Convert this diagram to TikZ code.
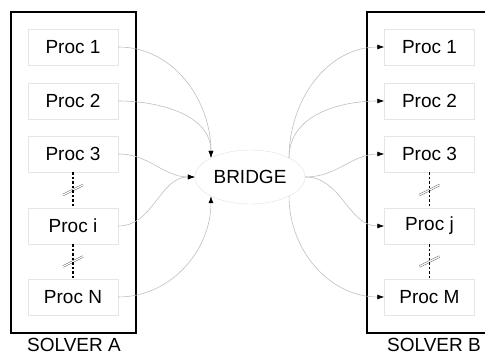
\documentclass[tikz,border=0pt]{standalone}
\usepackage{fontspec}
\setmainfont{Liberation Sans}
\usetikzlibrary{arrows.meta,calc,positioning,shapes.geometric}

\tikzset{
  proc/.style={draw=black!10, minimum width=90pt, minimum height=36pt, inner sep=0pt, font=\fontsize{19}{22}\selectfont},
  hub/.style={ellipse, draw=black!12, minimum width=110pt, minimum height=54pt, inner sep=0pt, font=\fontsize{19}{22}\selectfont},
  link/.style={draw=black!25, line width=0.6pt, -{Latex[length=7pt,width=5pt,color=black]}},
  gap/.style={line width=1.2pt, dash pattern=on 2.5pt off 2pt},
  breakmark/.style={draw=black!65, double=white, double distance=1.2pt, line width=0.5pt},
  solverlabel/.style={anchor=base, font=\fontsize{19}{22}\selectfont}
}

\begin{document}
\begin{tikzpicture}[x=1pt,y=1pt]
\clip (0,0) rectangle (485,355);
%--- SOLVER A ---
\draw[line width=1.8pt] (11,343) rectangle (136,22);
\node[solverlabel] (labA) at (74,3.5) {SOLVER A};
\foreach \n/\t/\y in {a1/1/308, a2/2/254, a3/3/201, ai/i/129, aN/N/58}{
  \node[proc] (\n) at (73,\y) {Proc \t};
}
% salti tra i processi
\path (a3.south) -- coordinate[pos=0.5] (ka) (ai.north);
\path (ai.south) -- coordinate[pos=0.5] (kb) (aN.north);
\foreach \k in {ka,kb}{
  \draw[breakmark] ($(\k)+(-10,-5)$) -- ($(\k)+(10,5)$);
}
\draw[gap] (a3.south) -- (ai.north);
\draw[gap] (ai.south) -- (aN.north);

%--- BRIDGE ---
\node[hub] (bridge) at (250,178) {BRIDGE};

%--- SOLVER B ---
\draw[line width=1.8pt] (367,343) rectangle (492,22);
\node[solverlabel] (labB) at (434,3.5) {SOLVER B};
\foreach \n/\t/\y in {b1/1/308, b2/2/254, b3/3/201, bj/j/129, bM/M/58}{
  \node[proc] (\n) at (429.5,\y) {Proc \t};
}
% salti tra i processi
\path (b3.south) -- coordinate[pos=0.5] (kc) (bj.north);
\path (bj.south) -- coordinate[pos=0.5] (kd) (bM.north);
\foreach \k in {kc,kd}{
  \draw[breakmark] ($(\k)+(-10,-5)$) -- ($(\k)+(10,5)$);
}
\draw[gap] (b3.south) -- (bj.north);
\draw[gap] (bj.south) -- (bM.north);

%--- collegamenti A -> BRIDGE ---
\draw[link] (a1.east) to[out=0,in=90] (bridge.north west);
\draw[link] (a2.east) to[out=0,in=90] (bridge.north west);
\draw[link] (a3.east) to[out=0,in=180] (bridge.west);
\draw[link] (ai.east) to[out=0,in=180] (bridge.west);
\draw[link] (aN.east) to[out=0,in=-90] (bridge.south west);

%--- collegamenti BRIDGE -> B ---
\draw[link] (bridge.north east) to[out=90,in=180] (b1.west);
\draw[link] (bridge.north east) to[out=90,in=180] (b2.west);
\draw[link] (bridge.east) to[out=0,in=180] (b3.west);
\draw[link] (bridge.east) to[out=0,in=180] (bj.west);
\draw[link] (bridge.south east) to[out=-90,in=180] (bM.west);
\end{tikzpicture}
\end{document}
